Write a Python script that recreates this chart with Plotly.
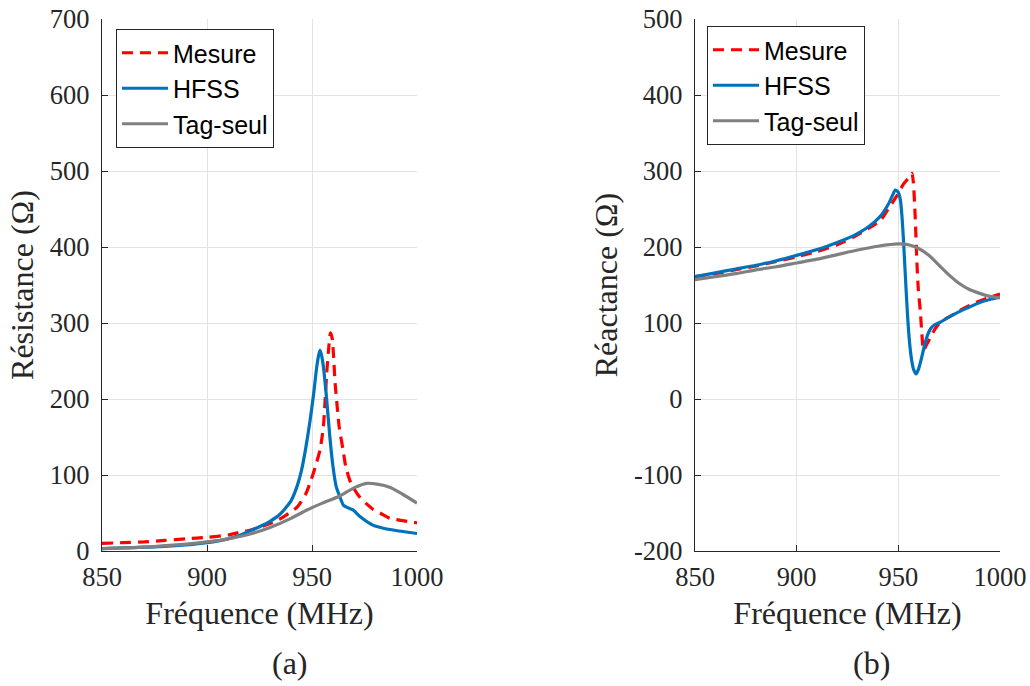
import plotly.graph_objects as go

# ---------------- data ----------------
# (a) Résistance
f_r_mes = [850, 860, 870, 880, 890, 900, 910, 916, 920, 931, 937, 943, 947, 949, 951.5, 953.8, 955.4, 957, 957.8, 958.8,
           959.6, 960.3, 961, 962, 963, 964.8, 966, 968, 970, 973, 976, 979, 983, 987, 993, 1000]
r_mes = [10, 11, 12, 14, 16, 18, 21, 25, 27, 37, 46, 58, 75, 89, 110, 133, 163, 234, 262, 287,
         280, 255, 221, 190, 162, 133, 112, 93, 82, 70, 62, 55, 49, 43, 40, 37]

f_r_hfss = [850, 860, 870, 880, 890, 900, 910, 915, 920, 925, 930, 935, 940, 943, 945, 947, 949, 950.7, 952.3,
            953.2, 953.8, 954.5, 955.4, 957, 958.5, 960, 961.5, 963.3, 965, 967, 969.5, 973, 979, 984, 990, 995, 1000]
r_hfss = [3, 4, 5, 6, 8, 11, 16, 20, 26, 32, 39, 49, 66, 86, 106, 135, 170, 205, 243,
          258, 264, 258, 243, 199, 150, 111, 85, 71, 60, 57, 54, 45, 34, 30, 27, 25, 23]

f_r_tag = [850, 860, 870, 880, 890, 900, 910, 920, 930, 940, 947.6, 955, 963, 970, 976, 981, 987, 993, 1000]
r_tag = [3, 4, 5, 7, 9, 12, 16, 22, 31, 43, 54, 63, 72, 83, 89, 88, 84, 75, 63]

# (b) Réactance
f_x_mes = [850, 860, 870, 880, 890, 900, 910, 920, 928, 935, 941.2, 945, 949.4, 952.6, 954.8, 956, 956.7, 957.4,
           958.3, 959.1, 959.8, 960.8, 961.6, 962.4, 964, 966, 968, 970.6, 975, 980, 985, 990, 995, 1000]
x_mes = [161, 165, 170, 175, 181, 187, 194, 203, 213, 224, 235, 250, 268, 283, 290, 295, 297, 285,
         239, 182, 145, 116, 85, 64, 72, 82, 92, 101, 108, 116, 123, 129, 134, 138]

f_x_hfss = [850, 860, 870, 880, 890, 900, 911.8, 917, 928, 935, 941, 945, 947, 948.5, 950, 951, 951.8, 952.5,
            953.2, 953.9, 954.6, 955.5, 956.5, 957.5, 958.8, 960, 961.5, 963, 964.5, 966, 968, 970.6, 975, 980,
            985, 990, 995, 1000]
x_hfss = [161, 166, 171, 176, 182, 189, 198, 203, 215, 226, 240, 256, 267, 275, 272, 262, 240, 210,
          175, 140, 107, 75, 52, 39, 33, 40, 55, 72, 85, 93, 98, 101, 108, 115,
          121, 127, 131, 134]

f_x_tag = [850, 860, 870, 880, 890, 900, 910, 920, 930, 940, 950, 955, 960, 965, 970, 975, 980, 985, 990, 995, 1000]
x_tag = [157, 161, 165, 170, 174, 179, 184, 190, 196, 201, 204, 203, 198, 189, 176, 163, 152, 144, 139, 135, 133]

x_ticks = [850, 900, 950, 1000]
r_ticks = [0, 100, 200, 300, 400, 500, 600, 700]
x_react_ticks = [-200, -100, 0, 100, 200, 300, 400, 500]
x_react_ticktext = ["-200", "-100", "0", "100", "200", "300", "400", "500"]

series_names = ["Mesure", "HFSS", "Tag-seul"]
colors = ["#FF0000", "#0072BD", "#808080"]
dashes = ["11px,7px", "solid", "solid"]

# ---------------- figure ----------------
fig = go.Figure()

left_sets = [(f_r_mes, r_mes), (f_r_hfss, r_hfss), (f_r_tag, r_tag)]
right_sets = [(f_x_mes, x_mes), (f_x_hfss, x_hfss), (f_x_tag, x_tag)]

for i, (fx, fy) in enumerate(left_sets):
    fig.add_trace(go.Scatter(x=fx, y=fy, mode="lines", name=series_names[i],
                             line=dict(color=colors[i], width=3.2, dash=dashes[i], shape="spline", smoothing=0.6),
                             xaxis="x", yaxis="y", legend="legend"))
for i, (fx, fy) in enumerate(right_sets):
    fig.add_trace(go.Scatter(x=fx, y=fy, mode="lines", name=series_names[i],
                             line=dict(color=colors[i], width=3.2, dash=dashes[i], shape="spline", smoothing=0.6),
                             xaxis="x2", yaxis="y2", legend="legend2"))

# the page body margin is removed (post_script) so the figure fills the window
W, H = 1030, 686


def px(x):
    return x / W


def py(y):
    return 1 - y / H


axis_col = "#262626"
grid_col = "#e3e3e3"
serif = "Liberation Serif, Times New Roman, serif"
tick_font = dict(family=serif, size=26.5, color=axis_col)
title_font = dict(family=serif, size=32, color=axis_col)
legend_font = dict(family="Liberation Sans, Arial, sans-serif", size=25, color="black")

common = dict(showline=True, linecolor=axis_col, linewidth=1.2, mirror=False,
              ticks="inside", ticklen=6, tickcolor=axis_col, tickwidth=1.2,
              showgrid=True, gridcolor=grid_col, gridwidth=1, zeroline=False,
              tickfont=tick_font, automargin=False, ticklabeloverflow="allow")
xcommon = dict(ticklabelstandoff=2, **common)
ycommon = dict(ticklabelstandoff=6, **common)

yd = [py(551), py(19)]

fig.update_layout(
    width=W, height=H, autosize=False,
    margin=dict(l=0, r=0, t=0, b=0),
    paper_bgcolor="white", plot_bgcolor="white",
    showlegend=True,
    xaxis=dict(domain=[px(102), px(417)], range=[850, 1000], tickvals=x_ticks, anchor="y",
               title=dict(text="Fréquence (MHz)", font=title_font, standoff=10), **xcommon),
    yaxis=dict(domain=yd, range=[0, 700], tickvals=r_ticks, anchor="x",
               title=dict(text="Résistance (Ω)", font=title_font, standoff=6), **ycommon),
    xaxis2=dict(domain=[px(695), px(1000)], range=[850, 1000], tickvals=x_ticks, anchor="y2",
                title=dict(text="Fréquence (MHz)", font=title_font, standoff=10), **xcommon),
    yaxis2=dict(domain=yd, range=[-200, 500], tickvals=x_react_ticks, ticktext=x_react_ticktext, anchor="x2",
                title=dict(text="Réactance (Ω)", font=title_font, standoff=6), **ycommon),
    legend=dict(x=px(116), y=py(29), xanchor="left", yanchor="top",
                bgcolor="white", bordercolor=axis_col, borderwidth=1,
                font=legend_font, itemwidth=46, tracegroupgap=0),
    legend2=dict(x=px(707), y=py(26), xanchor="left", yanchor="top",
                 bgcolor="white", bordercolor=axis_col, borderwidth=1,
                 font=legend_font, itemwidth=46, tracegroupgap=0),
    annotations=[
        dict(text="(a)", x=px(290), y=py(663), xref="paper", yref="paper", showarrow=False,
             font=title_font, xanchor="center", yanchor="middle"),
        dict(text="(b)", x=px(871), y=py(663), xref="paper", yref="paper", showarrow=False,
             font=title_font, xanchor="center", yanchor="middle"),
    ],
)

fig.write_html("out.html", config={"displayModeBar": False},
               post_script="document.body.style.margin='0';document.body.style.overflow='hidden';")
